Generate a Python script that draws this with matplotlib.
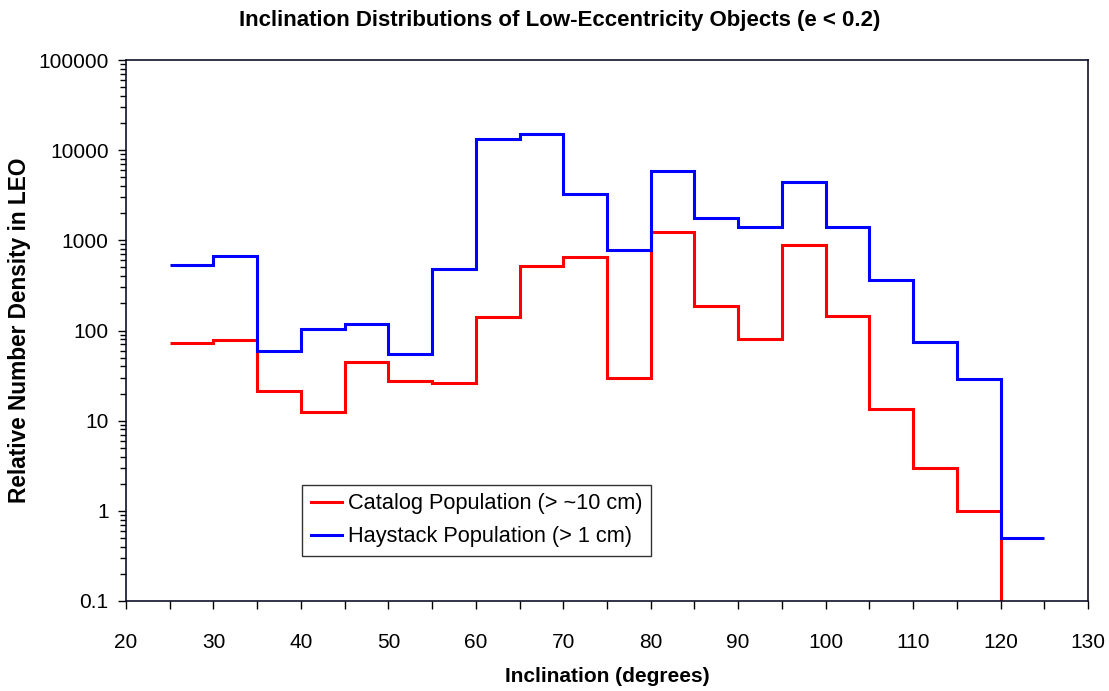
import numpy as np
import matplotlib.pyplot as plt
from matplotlib.ticker import LogLocator, FixedLocator, MultipleLocator, NullFormatter

plt.rcParams['font.family'] = ['Liberation Sans', 'DejaVu Sans']

# bin edges (degrees inclination)
edges = [25, 30, 35, 40, 45, 50, 55, 60, 65, 70, 75,
         80, 85, 90, 95, 100, 105, 110, 115, 120, 125]

catalog = [72, 78, 21.5, 12.4, 45, 27.5, 26.3, 142, 514, 656,
           29.4, 1240, 186, 80, 885, 146, 13.3, 3.0, 1.0, 0.001]
haystack = [530, 673, 58.7, 105, 118, 55, 480, 13150, 15300, 3230,
            778, 5850, 1750, 1390, 4450, 1410, 362, 74, 28.9, 0.50]

fig = plt.figure(figsize=(11.09, 6.91), dpi=100)
ax = fig.add_axes([126/1109, 1 - 601/691, 962/1109, 541/691])

ax.stairs(catalog, edges, baseline=None, color='#ff0000', lw=2.2,
          label='Catalog Population (> ~10 cm)')
ax.stairs(haystack, edges, baseline=None, color='#0000ff', lw=2.2,
          label='Haystack Population (> 1 cm)')

ax.set_yscale('log')
ax.set_xlim(20, 130)
ax.set_ylim(0.1, 100000)
ax.xaxis.set_major_locator(MultipleLocator(10))
ax.xaxis.set_minor_locator(MultipleLocator(5))
ax.yaxis.set_major_locator(FixedLocator([0.1, 1, 10, 100, 1000, 10000, 100000]))
ax.yaxis.set_minor_locator(LogLocator(base=10, subs=np.arange(2, 10), numticks=20))
ax.yaxis.set_minor_formatter(NullFormatter())
ax.set_yticklabels(['0.1', '1', '10', '100', '1000', '10000', '100000'])

ax.tick_params(axis='both', which='major', direction='out', length=6, width=1,
               labelsize=15, colors='black')
ax.tick_params(axis='y', which='minor', direction='out', length=4, width=1)
ax.tick_params(axis='x', which='minor', direction='out', length=6, width=1)
ax.tick_params(axis='x', pad=17)
ax.tick_params(axis='y', pad=6.5)
for s in ax.spines.values():
    s.set_color('#10102a')
    s.set_linewidth(1.2)

fig.suptitle('Inclination Distributions of Low-Eccentricity Objects (e < 0.2)',
             x=0.505, y=0.971, va='center', fontsize=16, fontweight='bold')
ax.set_xlabel('Inclination (degrees)', fontsize=15, fontweight='bold', labelpad=11)
ax.set_ylabel('Relative Number Density in LEO', fontsize=16.3, fontweight='bold', labelpad=5)

leg = ax.legend(loc='lower left', bbox_to_anchor=(0.183, 0.083), fontsize=15.7,
                frameon=True, fancybox=False, edgecolor='#333333', framealpha=1,
                handlelength=1.45, handletextpad=0.25, borderpad=0.4,
                labelspacing=0.55, borderaxespad=0)
leg.get_frame().set_linewidth(1.0)

fig.savefig('out.png', dpi=100)
